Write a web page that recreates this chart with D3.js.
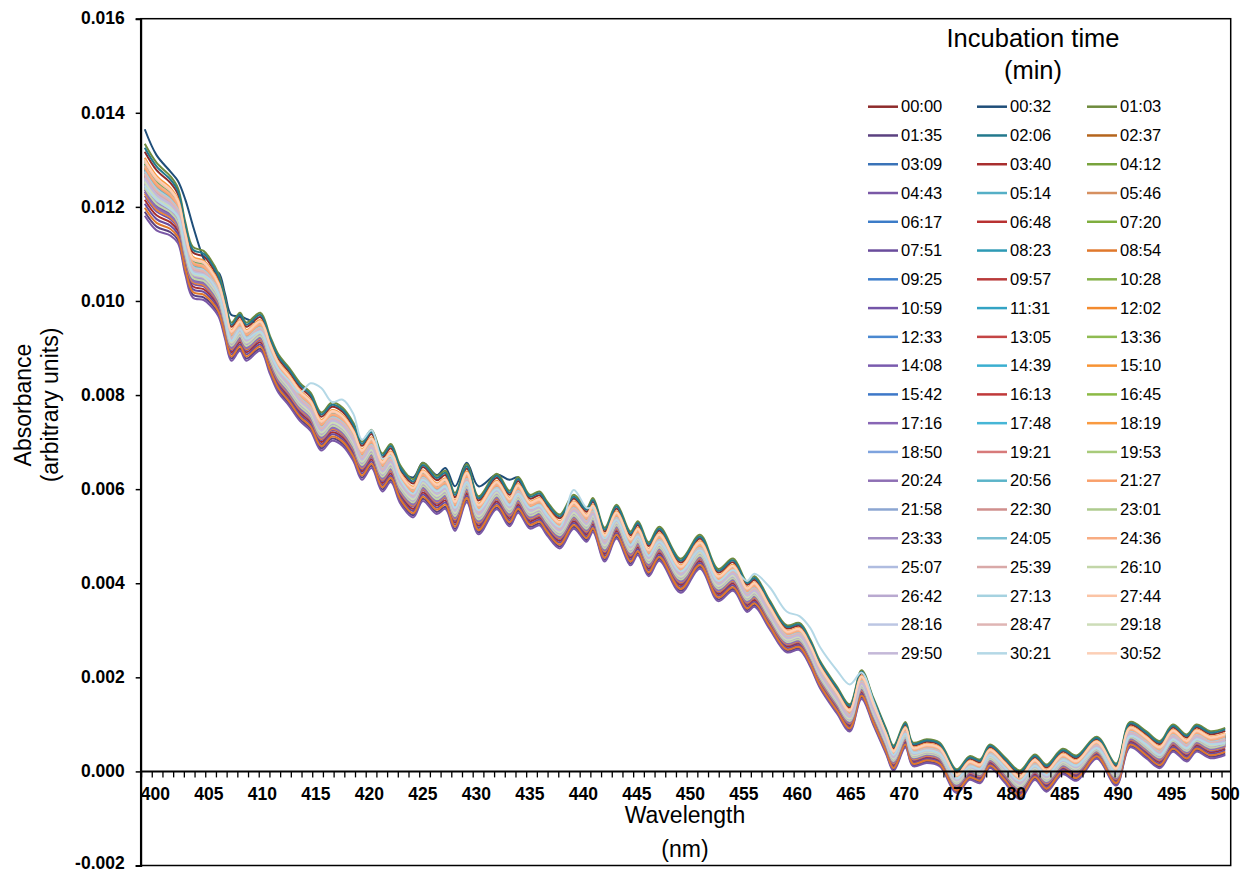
<!DOCTYPE html>
<html>
<head>
<meta charset="utf-8">
<script src="https://cdn.jsdelivr.net/npm/d3@7"></script>
<style>
  body { margin: 0; background: #fff; }
  svg { display: block; }
  text { font-family: "Liberation Sans", Arial, Helvetica, sans-serif; fill: #000; }
</style>
</head>
<body>
<svg id="chart" width="1244" height="873"></svg>
<script>
// Spectral sampling points (nm)
const wavelengths = [
  399.0, 400.1, 401.4, 402.1, 402.8, 403.5, 404.5, 405.1, 405.9, 406.5,
  407.1, 407.9, 408.5, 409.8, 410.7, 411.5, 412.5, 413.5, 414.5, 415.5,
  416.5, 417.5, 418.5, 419.3, 420.2, 421.2, 422.0, 422.9, 424.1, 425.0,
  426.3, 427.1, 428.0, 429.1, 430.2, 431.9, 433.1, 433.9, 435.0, 435.9,
  436.6, 437.8, 439.1, 440.3, 440.9, 442.0, 443.1, 444.4, 445.1, 446.1,
  447.1, 449.1, 450.9, 452.6, 454.0, 455.3, 456.0, 457.4, 459.0, 460.2,
  461.2, 462.1, 463.7, 464.9, 466.0, 467.1, 468.3, 469.0, 470.1, 470.8,
  472.1, 473.3, 474.9, 476.1, 477.1, 478.0, 479.4, 480.8, 482.2, 483.3,
  484.8, 486.1, 488.0, 489.8, 491.1, 492.6, 493.9, 495.1, 496.4, 497.3,
  498.6, 500.0
];

// Middle of the bundle of spectra at each wavelength
const bandCenter = [
  0.01266, 0.01230, 0.01209, 0.01188, 0.01117, 0.01067, 0.01060, 0.01046, 0.01017, 0.00968,
  0.00918, 0.00939, 0.00918, 0.00939, 0.00890, 0.00850, 0.00822, 0.00790, 0.00769, 0.00727,
  0.00748, 0.00737, 0.00705, 0.00665, 0.00690, 0.00640, 0.00660, 0.00614, 0.00585, 0.00620,
  0.00592, 0.00603, 0.00556, 0.00617, 0.00549, 0.00599, 0.00563, 0.00592, 0.00556, 0.00563,
  0.00542, 0.00514, 0.00556, 0.00528, 0.00549, 0.00486, 0.00535, 0.00478, 0.00500, 0.00455,
  0.00488, 0.00420, 0.00471, 0.00400, 0.00422, 0.00375, 0.00386, 0.00337, 0.00285, 0.00290,
  0.00255, 0.00210, 0.00155, 0.00117, 0.00188, 0.00131, 0.00067, 0.00031, 0.00081, 0.00039,
  0.00046, 0.00039, -0.00018, 0.00010, 0.00003, 0.00035, 0.00006, -0.00025, 0.00012, -0.00011,
  0.00024, 0.00010, 0.00053, -0.00004, 0.00081, 0.00060, 0.00039, 0.00074, 0.00053, 0.00074,
  0.00060, 0.00067
];

// Half width of the bundle at each wavelength
const bandHalfWidth = [
  0.00085, 0.00080, 0.00070, 0.00065, 0.00062, 0.00060, 0.00058, 0.00055, 0.00050, 0.00048,
  0.00045, 0.00045, 0.00045, 0.00045, 0.00045, 0.00045, 0.00045, 0.00045, 0.00045, 0.00045,
  0.00045, 0.00045, 0.00045, 0.00045, 0.00045, 0.00045, 0.00045, 0.00045, 0.00045, 0.00045,
  0.00045, 0.00045, 0.00045, 0.00045, 0.00045, 0.00042, 0.00042, 0.00042, 0.00040, 0.00040,
  0.00040, 0.00040, 0.00040, 0.00040, 0.00040, 0.00040, 0.00040, 0.00040, 0.00040, 0.00040,
  0.00040, 0.00040, 0.00040, 0.00038, 0.00038, 0.00036, 0.00036, 0.00034, 0.00032, 0.00032,
  0.00032, 0.00032, 0.00032, 0.00032, 0.00034, 0.00032, 0.00030, 0.00030, 0.00030, 0.00028,
  0.00028, 0.00028, 0.00028, 0.00028, 0.00028, 0.00028, 0.00030, 0.00034, 0.00030, 0.00032,
  0.00030, 0.00030, 0.00026, 0.00026, 0.00030, 0.00032, 0.00032, 0.00032, 0.00032, 0.00032,
  0.00032, 0.00032
];

// Spectrum recorded at 00:32
const absorbance0032 = [
  0.01365, 0.01310, 0.01275, 0.01255, 0.01215, 0.01160, 0.01090, 0.01065, 0.01060, 0.01015,
  0.00970, 0.00968, 0.00962, 0.00946, 0.00890, 0.00860, 0.00830, 0.00790, 0.00760, 0.00690,
  0.00735, 0.00735, 0.00710, 0.00675, 0.00700, 0.00660, 0.00672, 0.00640, 0.00625, 0.00656,
  0.00630, 0.00645, 0.00606, 0.00656, 0.00606, 0.00631, 0.00620, 0.00625, 0.00570, 0.00570,
  0.00548, 0.00520, 0.00565, 0.00560, 0.00560, 0.00490, 0.00535, 0.00480, 0.00500, 0.00455,
  0.00485, 0.00415, 0.00465, 0.00395, 0.00418, 0.00370, 0.00380, 0.00330, 0.00280, 0.00285,
  0.00250, 0.00205, 0.00145, 0.00092, 0.00180, 0.00125, 0.00060, 0.00022, 0.00078, 0.00035,
  0.00042, 0.00036, -0.00022, 0.00008, 0.00000, 0.00032, 0.00004, -0.00030, 0.00008, -0.00014,
  0.00022, 0.00008, 0.00050, -0.00006, 0.00078, 0.00060, 0.00040, 0.00075, 0.00055, 0.00078,
  0.00065, 0.00075
];

// Spectrum recorded at 30:21
const absorbance3021 = [
  0.01245, 0.01215, 0.01195, 0.01180, 0.01110, 0.01060, 0.01055, 0.01045, 0.01015, 0.00965,
  0.00915, 0.00940, 0.00920, 0.00935, 0.00890, 0.00855, 0.00830, 0.00805, 0.00825, 0.00815,
  0.00785, 0.00790, 0.00760, 0.00705, 0.00725, 0.00665, 0.00670, 0.00620, 0.00590, 0.00620,
  0.00595, 0.00605, 0.00560, 0.00615, 0.00555, 0.00600, 0.00565, 0.00590, 0.00560, 0.00565,
  0.00545, 0.00520, 0.00598, 0.00560, 0.00560, 0.00495, 0.00535, 0.00480, 0.00500, 0.00458,
  0.00488, 0.00425, 0.00470, 0.00405, 0.00428, 0.00405, 0.00420, 0.00392, 0.00340, 0.00330,
  0.00305, 0.00265, 0.00215, 0.00185, 0.00210, 0.00150, 0.00075, 0.00035, 0.00080, 0.00040,
  0.00045, 0.00038, -0.00015, 0.00010, 0.00005, 0.00035, 0.00008, -0.00020, 0.00012, -0.00008,
  0.00024, 0.00012, 0.00050, -0.00002, 0.00075, 0.00058, 0.00035, 0.00068, 0.00050, 0.00068,
  0.00058, 0.00060
];

// Incubation times (min:s)
const timeLabels = [
  "00:00", "00:32", "01:03", "01:35", "02:06", "02:37", "03:09", "03:40", "04:12", "04:43",
  "05:14", "05:46", "06:17", "06:48", "07:20", "07:51", "08:23", "08:54", "09:25", "09:57",
  "10:28", "10:59", "11:31", "12:02", "12:33", "13:05", "13:36", "14:08", "14:39", "15:10",
  "15:42", "16:13", "16:45", "17:16", "17:48", "18:19", "18:50", "19:21", "19:53", "20:24",
  "20:56", "21:27", "21:58", "22:30", "23:01", "23:33", "24:05", "24:36", "25:07", "25:39",
  "26:10", "26:42", "27:13", "27:44", "28:16", "28:47", "29:18", "29:50", "30:21", "30:52"
];

// Position of each spectrum inside the bundle (-1 = lower edge, +1 = upper edge)
const seriesLevel = [
   0.60,  null,  0.80, -0.90,  0.70,  0.20,  0.30, -0.60,  0.40, -1.00,
   0.10, -0.20,  0.20, -0.40,  0.30, -0.70,  0.00, -0.80,  0.10, -0.30,
   0.20, -0.50,  0.35, -0.45, -0.10,  0.15, -0.15, -0.35,  0.25,  0.05,
  -0.25,  0.00, -0.05, -0.30,  0.10,  0.45, -0.20,  0.05, -0.10, -0.40,
   0.15,  0.20, -0.15,  0.10, -0.20, -0.25,  0.05,  0.25, -0.05,  0.00,
  -0.30, -0.20,  0.10,  0.35, -0.10,  0.05, -0.15, -0.05,  null,  0.40
];

const seriesColors = [
  "#8e2b2b", "#1f4e79", "#6e8b3d", "#5b4180", "#23798d", "#b5651d",
  "#3a73b8", "#a82e2e", "#78a33d", "#7a58a6", "#55afc6", "#d69060",
  "#3c7cc8", "#b83131", "#7fae3e", "#6a4c9c", "#2e9ab5", "#e0782c",
  "#3f7fcc", "#b93a3a", "#86b24a", "#7455a8", "#33a3c4", "#f38a2e",
  "#4a88d0", "#c44545", "#8fbb52", "#7a5bae", "#3bafd0", "#f79334",
  "#3d78c8", "#c0393a", "#8cba45", "#8866b5", "#46b6d6", "#f99a40",
  "#7ea3de", "#d77a7a", "#a8cb7a", "#8e6fb4", "#5bb4c9", "#f9a06b",
  "#8ca6d2", "#d08f8d", "#aecb8e", "#a08cc2", "#7cc0d3", "#f8ac82",
  "#afbce0", "#d9a9a8", "#c2d6a8", "#b9a9d0", "#a5d2e0", "#fbc4a5",
  "#bcc6e3", "#dfb5b4", "#cdddb8", "#c4b8d8", "#b4d8e6", "#fccfb6"
];

const yTickValues = [-0.002, 0.000, 0.002, 0.004, 0.006, 0.008, 0.010, 0.012, 0.014, 0.016];
const xTickLabels = [400, 405, 410, 415, 420, 425, 430, 435, 440, 445, 450,
                     455, 460, 465, 470, 475, 480, 485, 490, 495, 500];
const xMinorTicks = d3.range(399, 501);

// Assemble each spectrum as {wavelength, absorbance} points
const explicitSpectra = { "00:32": absorbance0032, "30:21": absorbance3021 };
const spectra = timeLabels.map((label, k) => {
  const values = explicitSpectra[label]
    ? explicitSpectra[label]
    : bandCenter.map((c, i) => c + seriesLevel[k] * bandHalfWidth[i]);
  return {
    label,
    color: seriesColors[k],
    points: wavelengths.map((w, i) => ({ w, a: values[i] }))
  };
});

const svg = d3.select("#chart");
const plot = { left: 140.7, right: 1230.7, top: 18.7, bottom: 865.5 };

const x = d3.scaleLinear().domain([398.62, 500.51]).range([plot.left, plot.right]);
const y = d3.scaleLinear().domain([-0.002, 0.016]).range([plot.bottom, plot.top]);

svg.append("defs").append("clipPath").attr("id", "plot-clip")
  .append("rect")
  .attr("x", plot.left).attr("y", plot.top)
  .attr("width", plot.right - plot.left).attr("height", plot.bottom - plot.top);

// Spectra
const line = d3.line()
  .x(d => x(d.w))
  .y(d => y(d.a))
  .curve(d3.curveCatmullRom.alpha(0.5));

svg.append("g").attr("clip-path", "url(#plot-clip)")
  .selectAll("path")
  .data(spectra)
  .join("path")
  .attr("d", d => line(d.points))
  .attr("fill", "none")
  .attr("stroke", d => d.color)
  .attr("stroke-width", 2)
  .attr("stroke-linejoin", "round");

// Plot frame
svg.append("rect")
  .attr("x", plot.left).attr("y", plot.top)
  .attr("width", plot.right - plot.left).attr("height", plot.bottom - plot.top)
  .attr("fill", "none").attr("stroke", "#000").attr("stroke-width", 1.5);

// Y axis
const yAxis = d3.axisLeft(y)
  .tickValues(yTickValues)
  .tickFormat(d => d.toFixed(3))
  .tickSize(5)
  .tickPadding(11);
const yG = svg.append("g").attr("transform", `translate(${plot.left},0)`).call(yAxis);
yG.select(".domain").attr("stroke-width", 2);
yG.selectAll(".tick line").attr("stroke-width", 1.5);
yG.selectAll(".tick text")
  .attr("font-size", 17.5).attr("font-weight", "bold")
  .attr("dy", d => d < 0 ? "0.15em" : "0.3em")
  .attr("font-family", "'Liberation Sans', Arial, sans-serif");

// X axis along the zero line
const zeroY = y(0);
const xG = svg.append("g");
xG.append("line")
  .attr("x1", plot.left).attr("x2", plot.right)
  .attr("y1", zeroY).attr("y2", zeroY)
  .attr("stroke", "#000").attr("stroke-width", 2);
xG.selectAll("line.minor")
  .data(xMinorTicks)
  .join("line")
  .attr("class", "minor")
  .attr("x1", d => x(d - 0.3)).attr("x2", d => x(d - 0.3))
  .attr("y1", zeroY).attr("y2", zeroY + 6)
  .attr("stroke", "#000").attr("stroke-width", 1.3);
xG.selectAll("text")
  .data(xTickLabels)
  .join("text")
  .attr("x", d => x(d))
  .attr("y", zeroY + 29)
  .attr("text-anchor", "middle")
  .attr("font-size", 17.5)
  .attr("font-weight", "bold")
  .text(d => d);

// Axis titles
svg.append("text").attr("x", 685).attr("y", 823)
  .attr("text-anchor", "middle").attr("font-size", 23).text("Wavelength");
svg.append("text").attr("x", 685).attr("y", 857)
  .attr("text-anchor", "middle").attr("font-size", 23).text("(nm)");
svg.append("text").attr("transform", "translate(31,405) rotate(-90)")
  .attr("text-anchor", "middle").attr("font-size", 23).text("Absorbance");
svg.append("text").attr("transform", "translate(58,405) rotate(-90)")
  .attr("text-anchor", "middle").attr("font-size", 23).text("(arbitrary units)");

// Legend
const legend = svg.append("g");
legend.append("text").attr("x", 1033).attr("y", 46.5)
  .attr("text-anchor", "middle").attr("font-size", 25.5).text("Incubation time");
legend.append("text").attr("x", 1033).attr("y", 79)
  .attr("text-anchor", "middle").attr("font-size", 25.5).text("(min)");

const colX = [868, 977, 1087];
const rowY0 = 106.7, rowStep = 28.77;
const items = legend.selectAll("g.item")
  .data(spectra)
  .join("g")
  .attr("class", "item")
  .attr("transform", (d, i) => `translate(${colX[i % 3]},${rowY0 + Math.floor(i / 3) * rowStep})`);
items.append("line")
  .attr("x1", 0).attr("x2", 30).attr("y1", 0).attr("y2", 0)
  .attr("stroke", d => d.color).attr("stroke-width", 2.5);
items.append("text")
  .attr("x", 33).attr("dy", "0.35em")
  .attr("font-size", 16.5)
  .text(d => d.label);
</script>
</body>
</html>
